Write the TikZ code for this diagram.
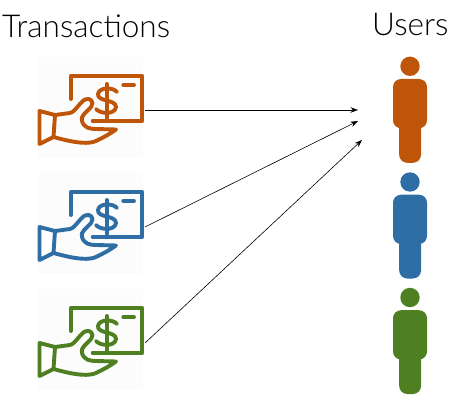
\documentclass[tikz,border=0pt]{standalone}
\usepackage{fontspec}
\setmainfont{Lato}[UprightFont=* Light]
\usepackage{xcolor}
\usetikzlibrary{arrows.meta}
\definecolor{rustc}{HTML}{BF5508}
\definecolor{bluec}{HTML}{2F6EA5}
\definecolor{greenc}{HTML}{4E7F20}
\tikzset{
  heading/.style={font=\fontsize{31.5}{36}\selectfont,text=black,inner sep=0pt},
  link/.style={-{Stealth[length=7.5pt,width=5.5pt]},line width=0.6pt},
  outline/.style={line width=3.9pt,line join=round,line cap=round},
  pics/payicon/.style={code={
    \fill[black!1] (18,7) rectangle (123,108);
    \draw[outline,#1] (50.7,49) -- (50.7,26) -- (122.3,26) -- (122.3,70.7) -- (72.7,70.7);
    \draw[outline,#1] (103.3,35) -- (114,35);
    \draw[outline,#1] (97,42) .. controls (93,37) and (79,37) .. (78,44)
      .. controls (77,52) and (96,49) .. (96,57)
      .. controls (95,65) and (80,64) .. (76,59);
    \draw[outline,#1] (86.7,34) -- (86.7,68);
    \draw[outline,#1,fill=white] (19.5,61) -- (35,65) -- (33.5,87) -- (19.5,94) -- cycle;
    \draw[outline,#1] (35,65) -- (50,63) .. controls (55,62) and (60,52) .. (65,49.5)
      .. controls (70,47) and (75,52) .. (71,57)
      .. controls (66,63) and (60,66) .. (62,71)
      .. controls (64,78) and (70,79) .. (76,79) -- (96,79.5)
      .. controls (90,84) and (84,87) .. (78,90)
      .. controls (70,95) and (55,93) .. (33.5,87);
  }},
  pics/usericon/.style={code={
    \fill[#1] (0,0) circle (9.7);
    \fill[#1,rounded corners=8pt] (-17,12.7) rectangle (17,62);
    \fill[#1,rounded corners=8pt] (-10.8,40) rectangle (11,96.5);
  }}
}
\begin{document}
\begin{tikzpicture}[x=1pt,y=-1pt]
  \useasboundingbox (0,0) rectangle (458,401);
  \node[heading,anchor=base west] (transactions) at (2,38) {Transactions};
  \node[heading,anchor=base west] (users) at (372,36) {Users};
  \pic at (20,50) {payicon=rustc};
  \pic at (20,166) {payicon=bluec};
  \pic at (20,282) {payicon=greenc};
  \pic at (410,66.3) {usericon=rustc};
  \pic at (410,182) {usericon=bluec};
  \pic at (410,297.5) {usericon=greenc};
  \coordinate (pay1) at (145,110);
  \coordinate (pay2) at (145,227);
  \coordinate (pay3) at (145,343);
  \coordinate (target1) at (358,110);
  \coordinate (target2) at (358,121);
  \coordinate (target3) at (362,140);
  \draw[link] (pay1) -- (target1);
  \draw[link] (pay2) -- (target2);
  \draw[link] (pay3) -- (target3);
\end{tikzpicture}
\end{document}
